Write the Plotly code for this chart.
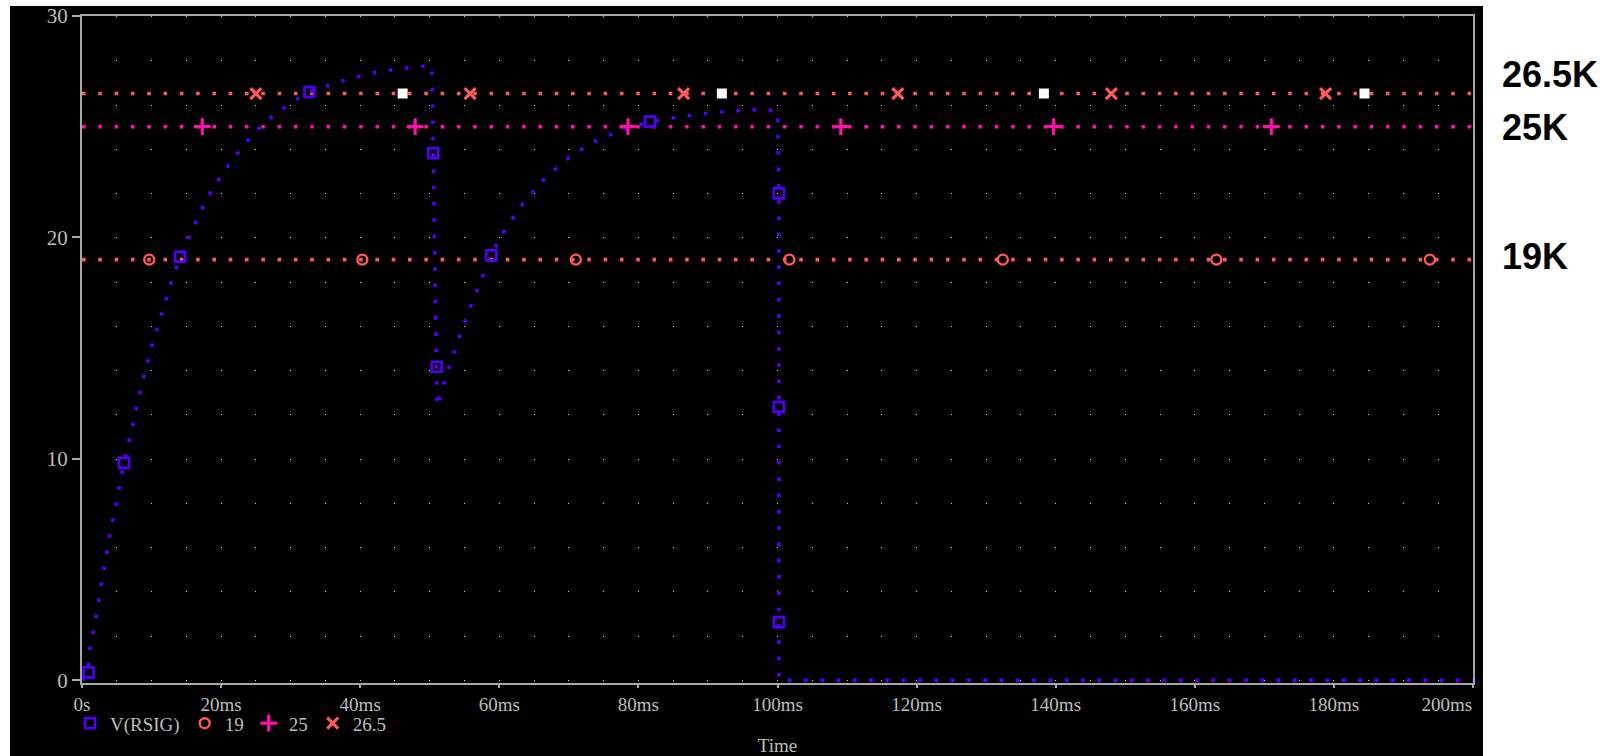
import plotly.graph_objects as go

# ---------------- data ----------------
# V(RSIG) waveform (time in ms, volts)
t_sig = [0, 0.95, 0.96, 1.87, 2.63, 3.41, 4.22, 5.13, 6.04, 7.09, 8.15, 9.16, 10.45,
         11.83, 13.23, 14.1, 15.9, 17.87, 20.37, 23.15, 26.31, 30.1, 32.7, 36.5, 41.0,
         45.6, 50.2, 50.35, 50.5, 50.75, 51.0, 51.05, 51.86, 53.25, 54.8, 56.46, 58.28,
         58.85, 60.2, 62.8, 65.7, 69.2, 73.0, 77.3, 81.67, 86.4, 91.1, 95.7, 98.1,
         100.0, 100.2, 100.2, 100.2, 100.2, 200.0]
v_sig = [0, 0.36, 1.16, 2.59, 4.03, 5.48, 6.93, 8.37, 9.82, 11.25, 12.68, 14.11, 15.54,
         16.95, 18.35, 19.13, 20.38, 21.72, 22.97, 24.14, 25.21, 26.1, 26.57, 26.98, 27.38,
         27.62, 27.77, 27.2, 23.81, 18.5, 14.16, 12.35, 13.21, 14.6, 16.0, 17.37, 18.72,
         19.19, 20.06, 21.28, 22.41, 23.41, 24.23, 24.82, 25.23, 25.47, 25.65, 25.76, 25.79,
         25.7, 21.99, 12.35, 2.63, 0, 0]

# marker positions of V(RSIG)
t_sig_mk = [0.95, 6.04, 14.1, 32.7, 50.5, 51.0, 58.85, 81.67, 100.2, 100.2, 100.2]
v_sig_mk = [0.36, 9.82, 19.13, 26.57, 23.81, 14.16, 19.19, 25.23, 21.99, 12.35, 2.63]

# constant reference traces
t_span = [0, 200]
level_19 = 19
level_25 = 25
level_265 = 26.5
t_mk_19 = [9.67, 40.3, 71.0, 101.7, 132.4, 163.1, 193.8]
t_mk_25 = [17.3, 47.9, 78.5, 109.1, 139.7, 171.0]
t_mk_265 = [25.0, 55.8, 86.5, 117.3, 148.0, 178.8]
t_mk_white = [46.1, 92.0, 138.3, 184.4]

NB = "\u00a0"
x_tickvals = [0, 20, 40, 60, 80, 100, 120, 140, 160, 180, 200]
x_ticktext = ["0s", "20ms", "40ms", "60ms", "80ms", "100ms", "120ms", "140ms",
              "160ms", "180ms", "200ms" + NB * 11]
y_tickvals = [0, 10, 20, 30]

side_labels = ["26.5K", "25K", "19K"]
side_label_y = [27.38, 24.98, 19.16]

# ---------------- style ----------------
C_SIG = "#5200f5"
C_SALMON = "#ff5a5a"
C_MAG = "#ff10a8"
C_GREY = "#bdbdbd"
C_AXIS = "#a8a8a8"
SERIF = "Liberation Serif, Times New Roman, serif"
DOTS = "3.6px,12.7px"

W, H = 1606, 756
Y_MIN, Y_MAX = -0.12, 30
L, R, T = 82, 1473, 16
Y0PX = 680                      # pixel row of value 0
UNIT = (Y0PX - T) / Y_MAX       # px per volt
B = Y0PX - Y_MIN * UNIT         # bottom of plotting area (slightly below 0)

fig = go.Figure()

def dotted(x, y, color):
    fig.add_trace(go.Scatter(x=x, y=y, mode="lines", showlegend=False, hoverinfo="skip",
                             line=dict(color=color, width=3.6, dash=DOTS)))

dotted(t_span, [level_19] * 2, C_SALMON)
dotted(t_span, [level_25] * 2, C_MAG)
dotted(t_span, [level_265] * 2, C_SALMON)
dotted(t_sig, v_sig, C_SIG)

fig.add_trace(go.Scatter(x=t_mk_white, y=[level_265] * len(t_mk_white), mode="markers",
                         showlegend=False, hoverinfo="skip",
                         marker=dict(symbol="square", size=10, color="white",
                                     line=dict(width=0))))

fig.add_trace(go.Scatter(x=t_sig_mk, y=v_sig_mk, mode="markers", name="V(RSIG)",
                         marker=dict(symbol="square-open", size=10, color=C_SIG,
                                     line=dict(width=2.6, color=C_SIG))))
fig.add_trace(go.Scatter(x=t_mk_19, y=[level_19] * len(t_mk_19), mode="markers", name="19",
                         marker=dict(symbol="circle-open", size=10, color=C_SALMON,
                                     line=dict(width=2.4, color=C_SALMON))))
fig.add_trace(go.Scatter(x=t_mk_25, y=[level_25] * len(t_mk_25), mode="markers", name="25",
                         marker=dict(symbol="cross-thin", size=12, color=C_MAG,
                                     line=dict(width=3.2, color=C_MAG))))
fig.add_trace(go.Scatter(x=t_mk_265, y=[level_265] * len(t_mk_265), mode="markers",
                         name="26.5",
                         marker=dict(symbol="x-thin", size=11, color=C_SALMON,
                                     line=dict(width=3.2, color=C_SALMON))))

pw, ph = R - L, B - T
px2x = lambda p: (p - L) / pw
py2y = lambda p: (B - p) / ph

fig.add_shape(type="rect", xref="paper", yref="paper", layer="below",
              x0=px2x(10), x1=px2x(1483), y0=py2y(770), y1=py2y(6),
              fillcolor="black", line=dict(width=0))

for txt, yv in zip(side_labels, side_label_y):
    fig.add_annotation(x=px2x(1500), y=yv, xref="paper", yref="y", text=txt,
                       showarrow=False, xanchor="left", yanchor="middle",
                       font=dict(family="Liberation Sans, Arial, sans-serif", size=36,
                                 color="black", weight="bold"))

gap = 2 * UNIT
grid_dash = "1px,%.3fpx" % (gap - 1)

fig.update_layout(
    width=W, height=H, autosize=False,
    margin=dict(l=L, r=W - R, t=T, b=H - B, pad=0, autoexpand=False),
    paper_bgcolor="white", plot_bgcolor="black",
    font=dict(family=SERIF, size=19, color=C_GREY),
    showlegend=True,
    legend=dict(orientation="h", x=px2x(70), y=py2y(723), xanchor="left", yanchor="middle",
                bgcolor="rgba(0,0,0,0)", font=dict(family=SERIF, size=19, color=C_GREY),
                itemwidth=30, tracegroupgap=0),
    xaxis=dict(range=[0, 200], tickvals=x_tickvals, ticktext=x_ticktext,
               showline=True, mirror=True, linecolor=C_AXIS, linewidth=2,
               layer="below traces", automargin=False,
               ticks="outside", ticklen=3, tickcolor=C_AXIS, tickwidth=1.5,
               showgrid=True, gridcolor="#d0d0d0", gridwidth=1, griddash=grid_dash,
               minor=dict(dtick=5, showgrid=True, gridcolor="#d0d0d0", gridwidth=1,
                          griddash=grid_dash, ticks=""),
               zeroline=False, tickfont=dict(family=SERIF, size=19, color=C_GREY),
               title=dict(text="Time", standoff=40,
                          font=dict(family=SERIF, size=19, color=C_GREY))),
    yaxis=dict(range=[Y_MIN, Y_MAX], tickvals=y_tickvals,
               showline=True, mirror=True, linecolor=C_AXIS, linewidth=2,
               layer="below traces", automargin=False,
               ticks="outside", ticklen=8, tickcolor=C_AXIS, tickwidth=1.5,
               showgrid=False, zeroline=False,
               tickfont=dict(family=SERIF, size=21, color=C_GREY)),
)

fig.write_html("out.html")
